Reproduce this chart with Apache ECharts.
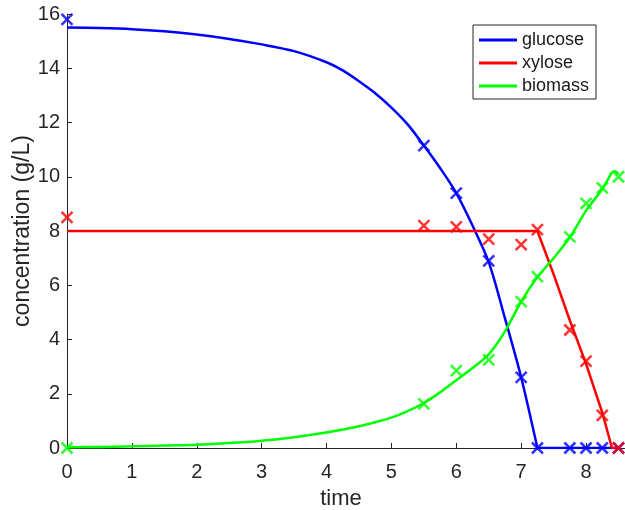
<!DOCTYPE html>
<html>
<head>
<meta charset="utf-8">
<script src="https://cdn.jsdelivr.net/npm/echarts@6/dist/echarts.min.js"></script>
<style>
  html, body { margin: 0; padding: 0; background: #fff; }
  #chart { width: 625px; height: 510px; }
</style>
</head>
<body>
<div id="chart"></div>
<script>
// Model time grid and simulated concentrations (g/L)
const tModel = [0, 0.5, 1, 1.5, 2, 2.5, 3, 3.5, 4, 4.25, 4.5, 4.75, 5, 5.25, 5.5, 5.75,
  6, 6.25, 6.5, 6.75, 7, 7.25, 7.5, 7.75, 8, 8.25, 8.4, 8.45, 8.5];
const glucoseModel = [15.5, 15.48, 15.44, 15.36, 15.24, 15.08, 14.88, 14.63, 14.22, 13.92, 13.52, 13.08, 12.55, 11.93, 11.15, 10.32,
  9.4, 8.2, 6.85, 4.78, 2.6, 0, 0, 0, 0, 0, 0, 0, 0];
const xyloseModel = [8, 8, 8, 8, 8, 8, 8, 8, 8, 8, 8, 8, 8, 8, 8, 8,
  8, 8, 8, 8, 8, 8, 6.4, 4.7, 3.1, 1.3, 0, 0, 0];
const biomassModel = [0.03, 0.04, 0.06, 0.09, 0.12, 0.18, 0.27, 0.4, 0.57, 0.68, 0.8, 0.95, 1.12, 1.36, 1.66, 2.05,
  2.5, 2.95, 3.45, 4.3, 5.4, 6.3, 7.0, 7.77, 8.75, 9.55, 10.18, 10.2, 10.1];

// Times where a curve switches regime (substrate exhausted): the smooth part ends there
const glucoseBreak = 7.25;
const biomassBreak = 8.4;

// Measured samples
const tObs = [0, 5.5, 6, 6.5, 7, 7.25, 7.75, 8, 8.25, 8.5];
const glucoseObs = [15.8, 11.15, 9.4, 6.9, 2.6, 0, 0, 0, 0, 0];
const xyloseObs = [8.5, 8.2, 8.15, 7.7, 7.5, 8.05, 4.35, 3.2, 1.2, 0];
const biomassObs = [0, 1.63, 2.85, 3.25, 5.4, 6.32, 7.78, 9.02, 9.59, 10.0];

// Axis ticks
const xTicks = [0, 1, 2, 3, 4, 5, 6, 7, 8];
const yTicks = [0, 2, 4, 6, 8, 10, 12, 14, 16];

const names = ['glucose', 'xylose', 'biomass'];
const colors = ['#0000ff', '#ff0000', '#00ff00'];
const models = [glucoseModel, xyloseModel, biomassModel];
const breaks = [glucoseBreak, null, biomassBreak];
const observed = [glucoseObs, xyloseObs, biomassObs];

const FONT = 'Liberation Sans, Arial, Helvetica, sans-serif';
const INK = '#262626';
const CROSS = 'path://M0,0L10,10M10,0L0,10';

const pairs = (xs, ys) => xs.map((x, i) => [x, ys[i]]);

function lineSeries(name, color, data, smooth) {
  return {
    name: name,
    type: 'line',
    data: data,
    showSymbol: false,
    symbol: 'none',
    smooth: smooth ? 0.3 : false,
    lineStyle: { color: color, width: 2.5 },
    itemStyle: { color: color },
    z: 2,
    silent: true,
    animation: false
  };
}

const series = [];
names.forEach((name, k) => {
  const pts = pairs(tModel, models[k]);
  if (breaks[k] === null) {
    series.push(lineSeries(name, colors[k], pts, false));
  } else {
    const b = tModel.indexOf(breaks[k]);
    series.push(lineSeries(name, colors[k], pts.slice(0, b + 1), true));
    series.push(lineSeries(name, colors[k], pts.slice(b), false));
  }
});
names.forEach((name, k) => {
  series.push({
    name: name + ' data',
    type: 'scatter',
    data: pairs(tObs, observed[k]),
    symbol: CROSS,
    symbolSize: 11,
    clip: false,
    itemStyle: { color: colors[k], borderColor: colors[k], borderWidth: 2.5 },
    z: 3,
    silent: true,
    animation: false
  });
});

const chart = echarts.init(document.getElementById('chart'), null, { renderer: 'canvas' });
chart.setOption({
  backgroundColor: '#ffffff',
  animation: false,
  textStyle: { fontFamily: FONT },
  grid: { left: 67, right: 0, top: 14, bottom: 62, containLabel: false, outerBoundsMode: 'none' },
  xAxis: {
    type: 'value',
    min: 0,
    max: 8.6,
    name: 'time',
    nameLocation: 'middle',
    nameGap: 40,
    nameMoveOverlap: false,
    nameTextStyle: { fontSize: 22, color: INK, fontFamily: FONT, padding: [0, 10, 0, 0] },
    axisLine: { show: true, lineStyle: { color: INK, width: 1 } },
    axisTick: { show: true, inside: true, length: 5, lineStyle: { color: INK, width: 1 }, customValues: xTicks },
    axisLabel: { fontSize: 20, color: INK, fontFamily: FONT, margin: 14, customValues: xTicks },
    splitLine: { show: false }
  },
  yAxis: {
    type: 'value',
    min: 0,
    max: 16,
    interval: 2,
    name: 'concentration (g/L)',
    nameLocation: 'middle',
    nameGap: 33,
    nameMoveOverlap: false,
    nameTextStyle: { fontSize: 23, color: INK, fontFamily: FONT },
    axisLine: { show: true, lineStyle: { color: INK, width: 1 } },
    axisTick: { show: true, inside: true, length: 5, lineStyle: { color: INK, width: 1 }, customValues: yTicks },
    axisLabel: { fontSize: 20, color: INK, fontFamily: FONT, margin: 7, customValues: yTicks },
    splitLine: { show: false }
  },
  legend: {
    data: names,
    orient: 'vertical',
    left: 473,
    top: 25,
    padding: [4, 7, 2, 6],
    itemGap: 1,
    itemWidth: 38,
    itemHeight: 3,
    icon: 'rect',
    backgroundColor: '#ffffff',
    borderColor: INK,
    borderWidth: 1,
    borderRadius: 0,
    textStyle: { fontSize: 18, color: '#1a1a1a', fontFamily: FONT, lineHeight: 22 },
    selectedMode: false
  },
  series: series
});
</script>
</body>
</html>
